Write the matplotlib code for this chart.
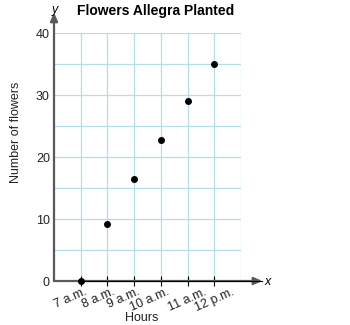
import matplotlib
matplotlib.use("Agg")
import matplotlib.pyplot as plt
from matplotlib.transforms import offset_copy

plt.rcParams['font.family'] = ['Liberation Sans', 'DejaVu Sans']

hours = ["7 a.m.", "8 a.m.", "9 a.m.", "10 a.m.", "11 a.m.", "12 p.m."]
flowers = [0, 9.25, 16.5, 22.75, 29, 35]
y_ticks = [0, 10, 20, 30, 40]

# per-label horizontal nudge of the tick labels (pixels), as in the reference
label_dx_px = [3, 4, 3, 5, 16, 17]

fig = plt.figure(figsize=(3.5, 3.25), dpi=100)
ax = fig.add_axes([54/350, 1-281/325, 187/350, 248/325])

xpos = list(range(1, len(hours) + 1))
ax.set_xlim(0, 7)
ax.set_ylim(0, 40)

grid_c = '#b3dde9'
for x in range(1, 8):
    ax.axvline(x, color=grid_c, lw=0.9, zorder=1)
for y in range(5, 41, 5):
    ax.axhline(y, color=grid_c, lw=0.9, zorder=1)

for s in ax.spines.values():
    s.set_visible(False)

axis_c = '#5a5a5a'
ax.annotate('', xy=(7.8, 0), xytext=(0, 0), xycoords='data',
            arrowprops=dict(arrowstyle='-|>,head_length=0.5,head_width=0.22', color=axis_c, lw=1.6,
                            shrinkA=0, shrinkB=0), annotation_clip=False, zorder=3)
ax.annotate('', xy=(0, 43.3), xytext=(0, 0), xycoords='data',
            arrowprops=dict(arrowstyle='-|>,head_length=0.5,head_width=0.22', color=axis_c, lw=1.6,
                            shrinkA=0, shrinkB=0), annotation_clip=False, zorder=3)
ax.plot([1, 7.8], [0, 0], color='black', lw=0.8, zorder=3, clip_on=False)

ax.scatter(xpos, flowers, s=16, color='black', zorder=5, clip_on=False)

ax.set_xticks(xpos)
ax.set_xticklabels([])
ax.tick_params(axis='x', direction='inout', length=7, width=0.8, color='black')
for x, lab, dx in zip(xpos, hours, label_dx_px):
    tr = offset_copy(ax.transData, fig=fig, x=dx, y=-5, units='dots')
    ax.text(x, 0, lab, transform=tr, rotation=24, ha='right', va='top',
            rotation_mode='anchor', fontsize=9, color='#222222', clip_on=False)

ax.set_yticks(y_ticks)
ax.set_yticklabels([str(v) for v in y_ticks], fontsize=9, color='#222222')
ax.tick_params(axis='y', length=0, pad=3)

fig.text(156/350, 1-11/325, 'Flowers Allegra Planted', ha='center', va='center',
         fontsize=10, fontweight='bold')
fig.text(55/350, 1-10/325, 'y', ha='center', va='center', fontsize=9, style='italic')
fig.text(268/350, 1-282/325, 'x', ha='center', va='center', fontsize=9, style='italic')
fig.text(16/350, 1-132/325, 'Number of flowers', ha='center', va='center', rotation=90,
         fontsize=9, color='#222222')
fig.text(142/350, 1-318/325, 'Hours', ha='center', va='center', fontsize=9, color='#222222')

fig.savefig('out.png', dpi=100)
